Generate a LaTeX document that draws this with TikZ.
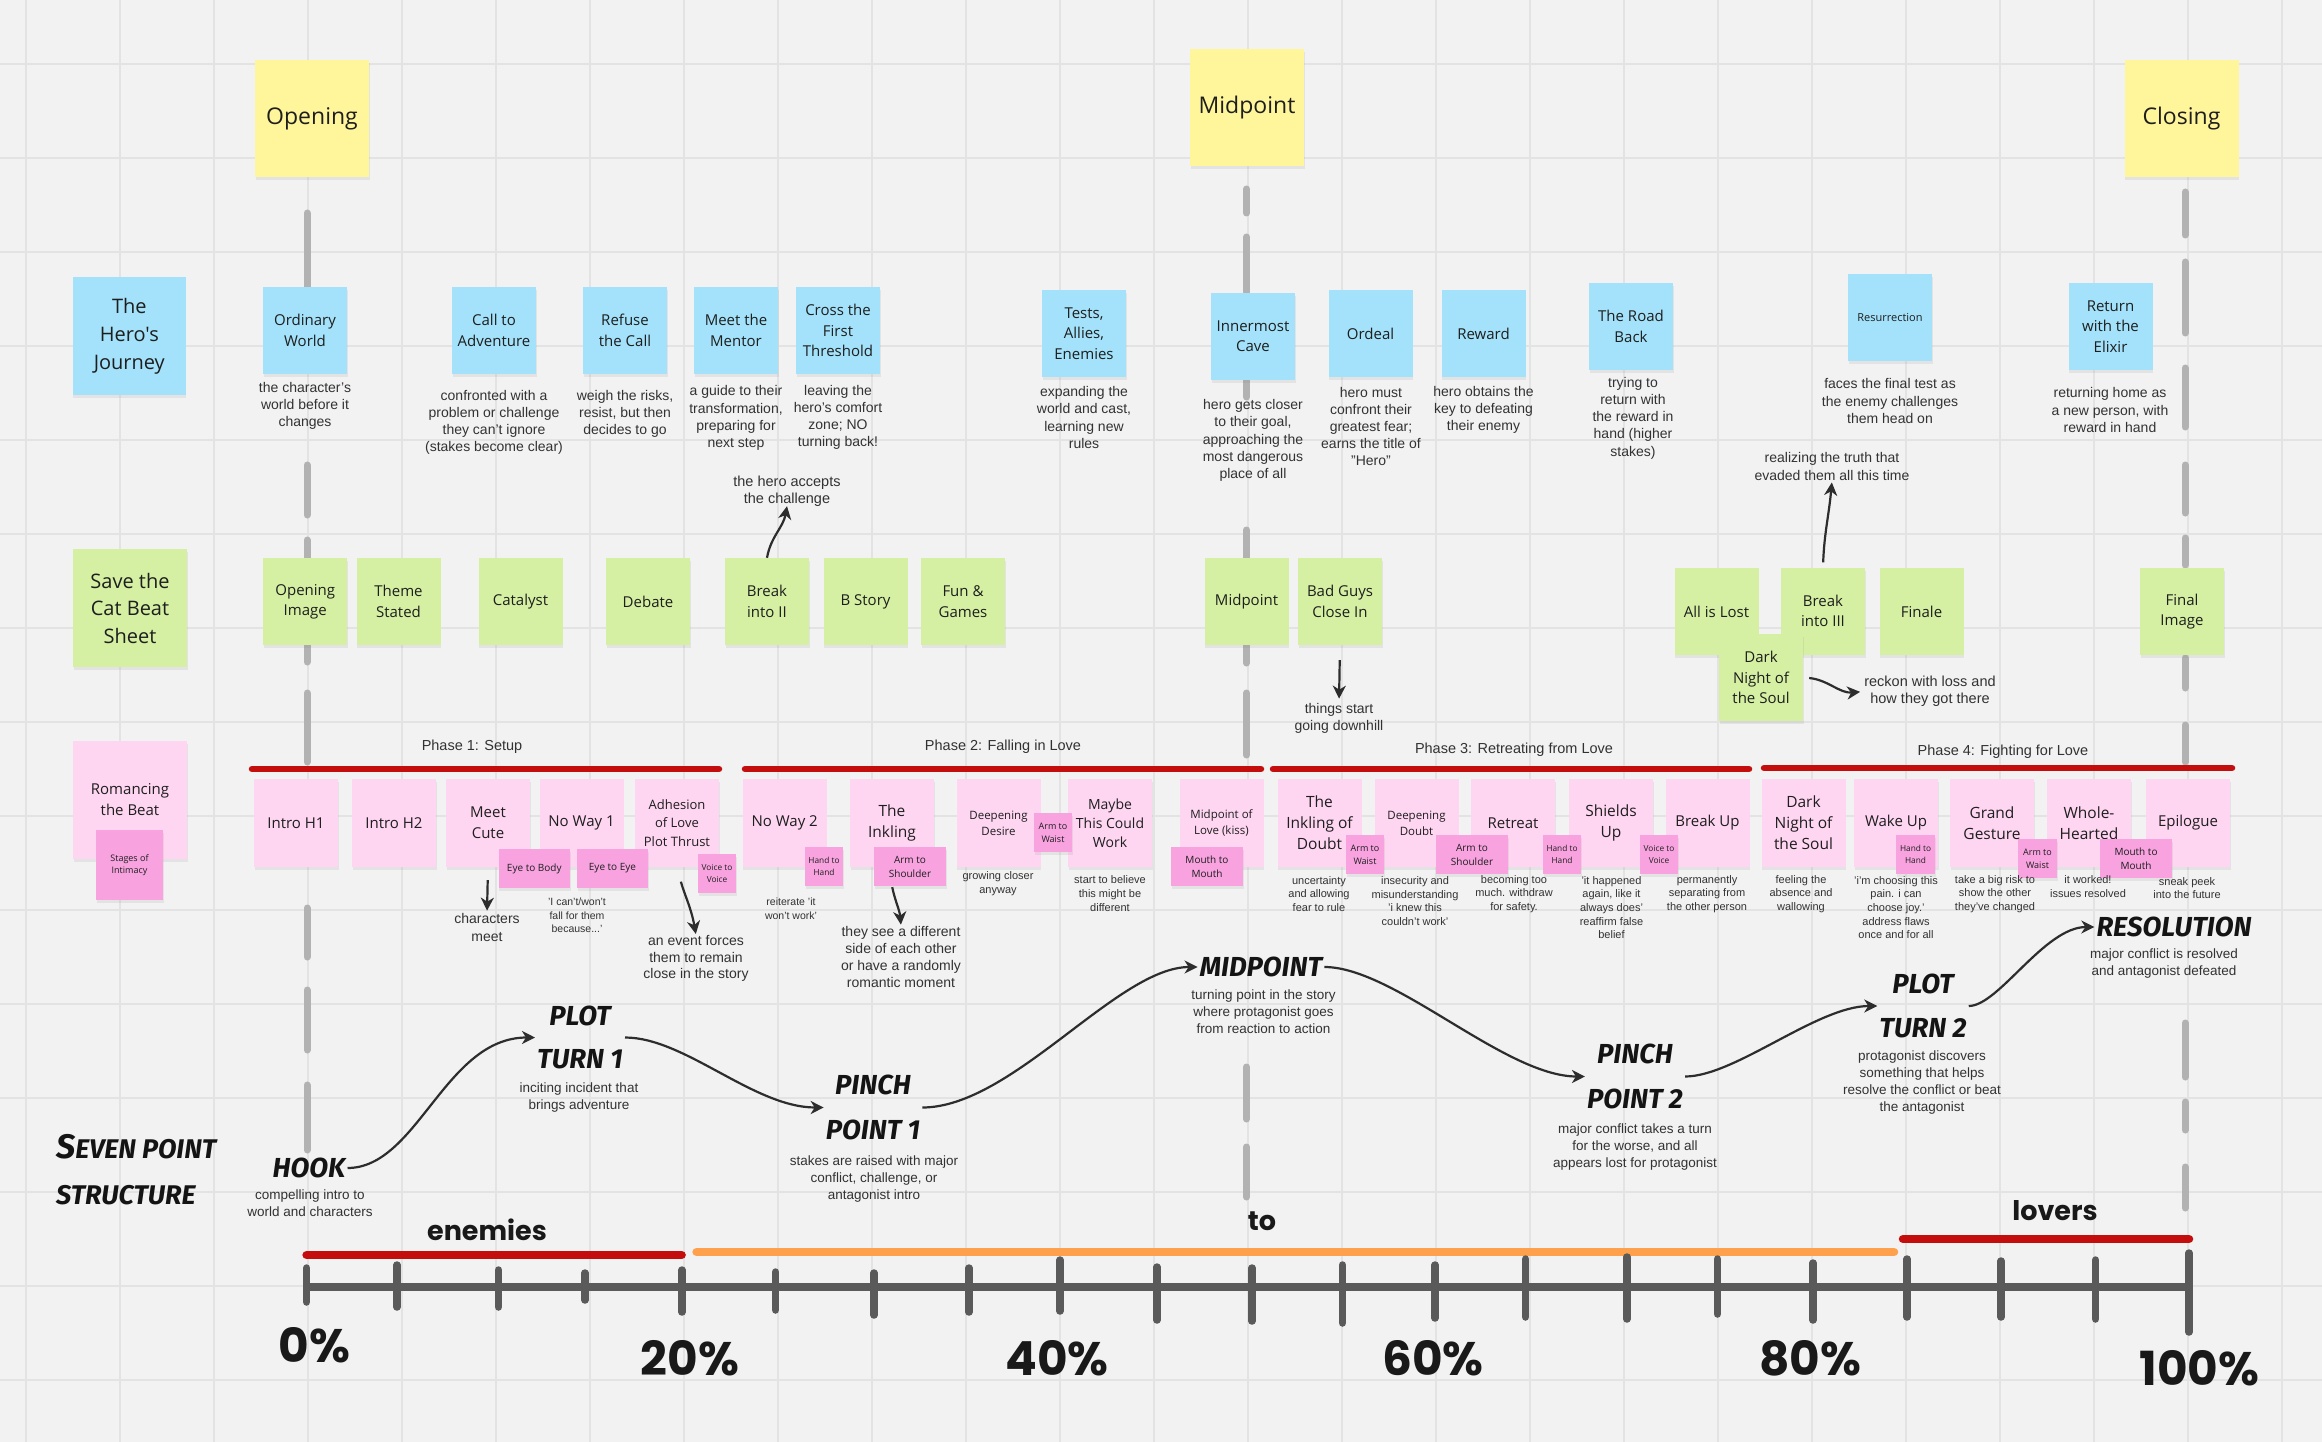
\documentclass[tikz,border=0pt]{standalone}
\usepackage{fontspec}
\setmainfont{Liberation Sans}
\newfontfamily\stfont{Open Sans}
\newfontfamily\popfont{Poppins}
\newfontfamily\handfont{Fira Sans}
\usetikzlibrary{arrows.meta,shadows}
\definecolor{bgc}{RGB}{242,242,242}
\definecolor{gridc}{RGB}{227,227,227}
\definecolor{yel}{RGB}{255,245,155}
\definecolor{blu}{RGB}{163,226,250}
\definecolor{grn}{RGB}{213,240,163}
\definecolor{pnk}{RGB}{255,214,242}
\definecolor{pnkD}{RGB}{248,163,224}
\definecolor{redb}{RGB}{196,14,14}
\definecolor{orab}{RGB}{255,160,76}
\definecolor{axc}{RGB}{90,90,90}
\definecolor{dashc}{RGB}{178,178,178}
\definecolor{txt}{RGB}{30,30,30}
\definecolor{dtxt}{RGB}{50,50,50}
\definecolor{arrc}{RGB}{45,45,45}
\tikzset{
  note/.style={inner sep=1pt, align=center, text=txt,
    drop shadow={opacity=0.13, shadow xshift=0.5pt, shadow yshift=-3pt}},
  ysticky/.style={note, fill=yel, minimum width=114pt, minimum height=117pt,
    font=\stfont\fontsize{23}{28}\selectfont},
  bsticky/.style={note, fill=blu, minimum width=84pt, minimum height=87pt,
    font=\stfont\fontsize{15}{20.5}\selectfont},
  gsticky/.style={note, fill=grn, minimum width=84pt, minimum height=87pt,
    font=\stfont\fontsize{15}{20.3}\selectfont},
  psticky/.style={note, fill=pnk, minimum width=84pt, minimum height=88pt,
    font=\stfont\fontsize{15}{21}\selectfont},
  dsticky/.style={note, fill=pnkD, minimum height=39pt, inner sep=0pt,
    font=\stfont\fontsize{9.5}{13.5}\selectfont},
  desc/.style={inner sep=0pt, align=center, text=dtxt, font=\fontsize{14}{17.2}\selectfont},
  sdesc/.style={inner sep=0pt, align=center, text=dtxt, font=\fontsize{11}{13.6}\selectfont},
  phase/.style={inner sep=0pt, text=dtxt, font=\fontsize{14.5}{17}\selectfont},
  hand/.style={inner sep=2pt, align=center, text=black!92,
    font=\handfont\bfseries\itshape\fontsize{27.5}{43}\selectfont},
  big/.style={inner sep=0pt, text=black!90, font=\popfont\bfseries\fontsize{47}{50}\selectfont},
  mid/.style={inner sep=0pt, text=black!90, font=\popfont\bfseries\fontsize{27}{30}\selectfont},
  arr/.style={draw=arrc, line width=2.2pt, -{Stealth[length=13pt,width=13pt,inset=4pt]}},
  dashseg/.style={draw=dashc, line width=7pt, line cap=round},
  bar/.style={line width=8.5pt, line cap=round}
}
\begin{document}
\begin{tikzpicture}[x=1pt,y=-1pt]
\useasboundingbox (0,0) rectangle (2322,1442);
\fill[bgc] (0,0) rectangle (2322,1442);
% grid
\foreach \k in {0,...,24} \draw[gridc, line width=2pt] ({25.6+94*\k},0) -- ({25.6+94*\k},1442);
\foreach \k in {0,...,14} \draw[gridc, line width=2pt] (0,{64+94*\k}) -- (2322,{64+94*\k});
% dashed act lines
\foreach \a/\b in {213/287,465/515,540/558,645/662,693/762,908/957,990/1050,1085/1150}
  \draw[dashseg] (307,\a) -- (307,\b);
\foreach \a/\b in {189/213,237/292,380/397,530/558,645/663,693/755,1067/1119,1147/1197}
  \draw[dashseg] (1246.5,\a) -- (1246.5,\b);
\foreach \a/\b in {192/235,262/333,368/427,465/513,538/565,658/688,725/762,1023/1077,1102/1130,1167/1208}
  \draw[dashseg] (2185,\a) -- (2185,\b);

% yellow
\node[ysticky] (opening) at (312,118.5) {Opening};
\node[ysticky] (midtop) at (1247,108) {Midpoint};
\node[ysticky] (closing) at (2181.5,118.5) {Closing};

% hero's journey
\node[bsticky, minimum width=113pt, minimum height=118pt, font=\stfont\fontsize{20}{28}\selectfont] (hjlab) at (129.3,336) {The\\Hero's\\Journey};
\node[bsticky] (ow) at (305,330.5) {Ordinary\\World};
\node[bsticky] (cta) at (494,330.5) {Call to\\Adventure};
\node[bsticky] (rtc) at (625,330.5) {Refuse\\the Call};
\node[bsticky] (mtm) at (736,330.5) {Meet the\\Mentor};
\node[bsticky] (cft) at (838,330.5) {Cross the\\First\\Threshold};
\node[bsticky] (tae) at (1084,333.5) {Tests,\\Allies,\\Enemies};
\node[bsticky] (ic) at (1253,336) {Innermost\\Cave};
\node[bsticky] (ord) at (1370.5,333.5) {Ordeal};
\node[bsticky] (rew) at (1483.5,333.5) {Reward};
\node[bsticky] (trb) at (1631,326.5) {The Road\\Back};
\node[bsticky, font=\stfont\fontsize{11}{14}\selectfont] (res) at (1890,317.5) {Resurrection};
\node[bsticky] (rwe) at (2110.5,326.5) {Return\\with the\\Elixir};

\node[desc] (owd) at (305,406) {the character's\\world before it\\changes};
\node[desc] (ctad) at (494,422.5) {confronted with a\\problem or challenge\\they can't ignore\\(stakes become clear)};
\node[desc] (rtcd) at (625,414) {weigh the risks,\\resist, but then\\decides to go};
\node[desc] (mtmd) at (736,418) {a guide to their\\transformation,\\preparing for\\next step};
\node[desc] (cftd) at (838,417.5) {leaving the\\hero's comfort\\zone; NO\\turning back!};
\node[desc] (taed) at (1084,417.5) {expanding the\\world and cast,\\learning new\\rules};
\node[desc] (icd) at (1253,440.5) {hero gets closer\\to their goal,\\approaching the\\most dangerous\\place of all};
\node[desc] (ordd) at (1371,426.5) {hero must\\confront their\\greatest fear;\\earns the title of\\"Hero"};
\node[desc] (rewd) at (1483.5,410) {hero obtains the\\key to defeating\\their enemy};
\node[desc] (trbd) at (1633,418) {trying to\\return with\\the reward in\\hand (higher\\stakes)};
\node[desc] (resd) at (1890,401) {faces the final test as\\the enemy challenges\\them head on};
\node[desc] (rwed) at (2110,410) {returning home as\\a new person, with\\reward in hand};
\node[desc] (truth) at (1832,466.5) {realizing the truth that\\evaded them all this time};

% save the cat
\node[gsticky, minimum width=114pt, minimum height=118pt, font=\stfont\fontsize{20}{27.5}\selectfont] (stclab) at (130,608) {Save the\\Cat Beat\\Sheet};
\node[gsticky] (oi) at (305.3,601.5) {Opening\\Image};
\node[gsticky] (ts) at (398.5,601.5) {Theme\\Stated};
\node[gsticky] (cat) at (520.5,601.5) {Catalyst};
\node[gsticky] (deb) at (648,601.5) {Debate};
\node[gsticky] (bii) at (767,601.5) {Break\\into II};
\node[gsticky] (bs) at (865.5,601.5) {B Story};
\node[gsticky] (fg) at (963,601.5) {Fun \&\\Games};
\node[gsticky] (gmid) at (1246.5,601.5) {Midpoint};
\node[gsticky] (bg) at (1340,601.5) {Bad Guys\\Close In};
\node[gsticky] (ail) at (1716.5,611.5) {All is Lost};
\node[gsticky] (biii) at (1823,611) {Break\\into III};
\node[gsticky] (fin) at (1921.5,611.5) {Finale};
\node[gsticky] (dns) at (1761,677.5) {Dark\\Night of\\the Soul};
\node[gsticky] (fi) at (2182,611.5) {Final\\Image};

\node[desc, font=\fontsize{14.5}{16.5}\selectfont] (accepts) at (787,491) {the hero accepts\\the challenge};
\node[desc] (downhill) at (1339,718) {things start\\going downhill};
\node[desc, font=\fontsize{14.5}{17}\selectfont] (reckon) at (1930,691.5) {reckon with loss and\\how they got there};

% romancing the beat
\node[psticky, minimum width=114pt, minimum height=118pt] (rtblab) at (130,800) {Romancing\\the Beat};
\node[dsticky, minimum width=67pt, minimum height=70pt, font=\stfont\fontsize{9}{12.5}\selectfont] (soi) at (129.5,865) {Stages of\\Intimacy};

\node[phase] (ph1) at (472,747) {Phase 1: Setup};
\node[phase] (ph2) at (1003,747) {Phase 2: Falling in Love};
\node[phase] (ph3) at (1514,750) {Phase 3: Retreating from Love};
\node[phase] (ph4) at (2003,752) {Phase 4: Fighting for Love};
\draw[redb, bar, line width=6.5pt] (252,769) -- (719,769);
\draw[redb, bar, line width=6.5pt] (745,769) -- (1261,769);
\draw[redb, bar, line width=6.5pt] (1273,769) -- (1749,769);
\draw[redb, bar, line width=6.5pt] (1764,768) -- (2232,768);

\node[psticky] (ih1) at (296,823) {Intro H1};
\node[psticky] (ih2) at (394,823) {Intro H2};
\node[psticky] (mc) at (488,823) {Meet\\Cute};
\node[psticky] (nw1) at (581.5,823) {No Way 1};
\node[psticky, font=\stfont\fontsize{13}{18.5}\selectfont] (adh) at (677,823) {Adhesion\\of Love\\Plot Thrust};
\node[psticky] (nw2) at (784.7,823) {No Way 2};
\node[psticky, font=\stfont\fontsize{15.5}{20.7}\selectfont] (ink) at (892,823) {The\\Inkling};
\node[psticky, font=\stfont\fontsize{11.5}{16}\selectfont] (dd) at (998.5,823) {Deepening\\Desire};
\node[psticky, font=\stfont\fontsize{14}{19}\selectfont] (mtcw) at (1110,823) {Maybe\\This Could\\Work};
\node[psticky, font=\stfont\fontsize{11.5}{16}\selectfont] (mol) at (1221.5,823) {Midpoint of\\Love (kiss)};
\node[psticky, font=\stfont\fontsize{15.5}{21}\selectfont] (iod) at (1319.5,823) {The\\Inkling of\\Doubt};
\node[psticky, font=\stfont\fontsize{11.5}{16}\selectfont] (ddo) at (1416.5,823) {Deepening\\Doubt};
\node[psticky] (ret) at (1513,823) {Retreat};
\node[psticky, font=\stfont\fontsize{15.5}{21}\selectfont] (su) at (1611,823) {Shields\\Up};
\node[psticky] (bu) at (1707.5,823) {Break Up};
\node[psticky, font=\stfont\fontsize{15.5}{21}\selectfont] (dnp) at (1803.5,823) {Dark\\Night of\\the Soul};
\node[psticky] (wu) at (1896,823) {Wake Up};
\node[psticky, font=\stfont\fontsize{15.5}{21}\selectfont] (gg) at (1992,823) {Grand\\Gesture};
\node[psticky, font=\stfont\fontsize{15.5}{21}\selectfont] (wh) at (2089,823) {Whole-\\Hearted};
\node[psticky] (epi) at (2188,823) {Epilogue};

\node[dsticky, minimum width=71.5pt, font=\stfont\fontsize{10}{13}\selectfont] (etb) at (534.3,868.5) {Eye to Body};
\node[dsticky, minimum width=71pt, font=\stfont\fontsize{10}{13}\selectfont] (ete) at (612.5,868.5) {Eye to Eye};
\node[dsticky, minimum width=38pt, font=\stfont\fontsize{8.3}{12}\selectfont] (vtv1) at (717,873.5) {Voice to\\Voice};
\node[dsticky, minimum width=38pt, font=\stfont\fontsize{8.3}{12}\selectfont] (hth1) at (824,866.5) {Hand to\\Hand};
\node[dsticky, minimum width=72pt, font=\stfont\fontsize{10}{14}\selectfont] (ats1) at (910,866.5) {Arm to\\Shoulder};
\node[dsticky, minimum width=38pt, font=\stfont\fontsize{9}{13}\selectfont] (atw1) at (1053,832.5) {Arm to\\Waist};
\node[dsticky, minimum width=72pt, font=\stfont\fontsize{10}{14}\selectfont] (mtm1) at (1207,866.5) {Mouth to\\Mouth};
\node[dsticky, minimum width=38pt, font=\stfont\fontsize{9}{13}\selectfont] (atw2) at (1365,854.5) {Arm to\\Waist};
\node[dsticky, minimum width=72pt, font=\stfont\fontsize{10}{14}\selectfont] (ats2) at (1472,854.5) {Arm to\\Shoulder};
\node[dsticky, minimum width=38pt, font=\stfont\fontsize{8.3}{12}\selectfont] (hth2) at (1562,854.5) {Hand to\\Hand};
\node[dsticky, minimum width=38pt, font=\stfont\fontsize{8.3}{12}\selectfont] (vtv2) at (1659,854.5) {Voice to\\Voice};
\node[dsticky, minimum width=39pt, font=\stfont\fontsize{8.3}{12}\selectfont] (hth3) at (1915.5,854.5) {Hand to\\Hand};
\node[dsticky, minimum width=39pt, font=\stfont\fontsize{9}{13}\selectfont] (atw3) at (2037.5,858.5) {Arm to\\Waist};
\node[dsticky, minimum width=72pt, font=\stfont\fontsize{10}{14}\selectfont] (mtm2) at (2136,858.5) {Mouth to\\Mouth};

\node[desc, font=\fontsize{14}{18}\selectfont] (cmeet) at (487,927) {characters\\meet};
\node[sdesc, font=\fontsize{10.5}{13.5}\selectfont] (icant) at (577,915.5) {'I can't/won't\\fall for them\\because...'};
\node[desc, font=\fontsize{14}{16.8}\selectfont] (event) at (696,958.5) {an event forces\\them to remain\\close in the story};
\node[sdesc, font=\fontsize{10.5}{14}\selectfont] (reit) at (791,909) {reiterate 'it\\won't work'};
\node[desc, font=\fontsize{14}{17}\selectfont] (differ) at (901,956.5) {they see a different\\side of each other\\or have a randomly\\romantic moment};
\node[sdesc, font=\fontsize{11}{14}\selectfont] (grow) at (998,884) {growing closer\\anyway};
\node[sdesc, font=\fontsize{11}{14}\selectfont] (believe) at (1110,894) {start to believe\\this might be\\different};
\node[sdesc] (uncert) at (1319,894) {uncertainty\\and allowing\\fear to rule};
\node[sdesc] (insec) at (1415,901) {insecurity and\\misunderstanding\\'i knew this\\couldn't work'};
\node[sdesc] (becoming) at (1514,894) {becoming too\\much. withdraw\\for safety.};
\node[sdesc] (happened) at (1611.5,907.5) {'it happened\\again, like it\\always does'\\reaffirm false\\belief};
\node[sdesc] (perm) at (1707,894) {permanently\\separating from\\the other person};
\node[sdesc] (feeling) at (1801,894) {feeling the\\absence and\\wallowing};
\node[sdesc] (choosing) at (1896,907.5) {'i'm choosing this\\pain. i can\\choose joy.'\\address flaws\\once and for all};
\node[sdesc] (risk) at (1995,894) {take a big risk to\\show the other\\they've changed};
\node[sdesc] (worked) at (2088,886.5) {it worked!\\issues resolved};
\node[sdesc] (sneak) at (2187,888) {sneak peek\\into the future};

% small arrows
\draw[arr] (bii.north) to[out=80,in=-100] (accepts.south);
\draw[arr, shorten <=15pt, shorten >=4pt] (bg.south) -- (downhill.north);
\draw[arr, shorten <=6pt, shorten >=4pt] (dns.east) to[out=-5,in=185] (reckon.west);
\draw[arr, shorten <=5pt, shorten >=2pt] (biii.north) to[out=88,in=-95] (truth.south);
\draw[arr, shorten <=13pt, shorten >=2pt] (mc.south) -- (cmeet.north);
\draw[arr, shorten <=15pt, shorten >=1pt] (adh.south) to[out=-75,in=100] (event.north);
\draw[arr, shorten <=1pt, shorten >=1pt] ([xshift=-18pt]ats1.south) to[out=-78,in=95] (differ.north);

% seven point structure
\node[hand, anchor=west, align=left, font=\handfont\bfseries\itshape\fontsize{27}{46}\selectfont] (spslab) at (54,1170) {{\fontsize{34}{46}\selectfont S}EVEN POINT\\STRUCTURE};
\node[hand] (hook) at (309,1168) {HOOK};
\node[desc, font=\fontsize{13.5}{17}\selectfont] (hookd) at (310,1203.5) {compelling intro to\\world and characters};
\node[hand] (pt1) at (580,1037.5) {PLOT\\TURN 1};
\node[desc, font=\fontsize{13.5}{17}\selectfont] (pt1d) at (579,1097.5) {inciting incident that\\brings adventure};
\node[hand, font=\handfont\bfseries\itshape\fontsize{27.5}{45}\selectfont] (pp1) at (873,1107.5) {PINCH\\POINT 1};
\node[desc, font=\fontsize{13.5}{17}\selectfont] (pp1d) at (874,1179) {stakes are raised with major\\conflict, challenge, or\\antagonist intro};
\node[hand] (mp) at (1261,967) {MIDPOINT};
\node[desc, font=\fontsize{13.5}{17}\selectfont] (mpd) at (1263.5,1012) {turning point in the story\\where protagonist goes\\from reaction to action};
\node[hand, font=\handfont\bfseries\itshape\fontsize{27.5}{45}\selectfont] (pp2) at (1635,1076.5) {PINCH\\POINT 2};
\node[desc, font=\fontsize{13.5}{17}\selectfont] (pp2d) at (1635,1147) {major conflict takes a turn\\for the worse, and all\\appears lost for protagonist};
\node[hand, font=\handfont\bfseries\itshape\fontsize{27.5}{44}\selectfont] (pt2) at (1923,1006) {PLOT\\TURN 2};
\node[desc, font=\fontsize{13.5}{17}\selectfont] (pt2d) at (1922,1082.5) {protagonist discovers\\something that helps\\resolve the conflict or beat\\the antagonist};
\node[hand] (resol) at (2174,927) {RESOLUTION};
\node[desc, font=\fontsize{13.5}{17}\selectfont] (resold) at (2164,963.5) {major conflict is resolved\\and antagonist defeated};

\draw[arr] (hook.east) .. controls +(70,0) and +(-90,0) .. (pt1.west);
\draw[arr] (pt1.east) .. controls +(60,0) and +(-70,0) .. (pp1.west);
\draw[arr] (pp1.east) .. controls +(90,0) and +(-80,0) .. (mp.west);
\draw[arr] (mp.east) .. controls +(70,0) and +(-80,0) .. (pp2.west);
\draw[arr] (pp2.east) .. controls +(50,0) and +(-60,0) .. (pt2.west);
\draw[arr] (pt2.east) .. controls +(30,0) and +(-50,0) .. (resol.west);

% timeline
\draw[redb, bar] (306.6,1255) -- (681.6,1255);
\draw[orab, bar] (696.6,1252) -- (1894,1252);
\draw[redb, bar] (1903,1239) -- (2189,1239);
\draw[axc, line width=8pt] (306.6,1287) -- (2189,1287);
\foreach \x/\a/\b in {306.6/1268/1302,397/1265/1307,498.5/1270/1307,585/1273/1300,682/1270/1312,775.6/1272/1310,874/1273/1315,969/1268/1312,1060/1260/1311,1157/1267/1320,1252/1268/1321,1342.5/1265/1323,1435/1265/1318,1525.7/1259/1317,1627/1257/1319,1717.5/1259/1314,1813/1263/1320,1907/1259/1317,2001/1261/1317,2095.6/1260/1319,2189/1253/1332}
  \draw[axc, line width=7.5pt, line cap=round] (\x,\a) -- (\x,\b);

\node[mid] (enemies) at (487,1230) {enemies};
\node[mid] (to) at (1262,1221) {to};
\node[mid] (lovers) at (2055,1211) {lovers};
\node[big] (p0) at (314.6,1345) {0\%};
\node[big] (p20) at (690,1358) {20\%};
\node[big] (p40) at (1057,1358) {40\%};
\node[big] (p60) at (1433,1358) {60\%};
\node[big] (p80) at (1810,1358) {80\%};
\node[big] (p100) at (2199.5,1368) {100\%};
\end{tikzpicture}
\end{document}
